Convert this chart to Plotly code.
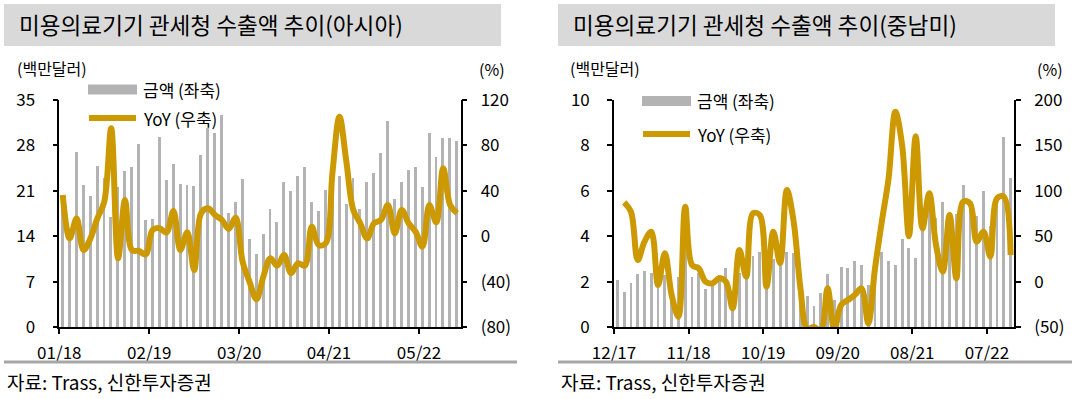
import pandas as pd
import plotly.graph_objects as go
from plotly.subplots import make_subplots

# ---------------- data ----------------
asia_months = [d.strftime("%Y-%m") for d in pd.date_range("2018-01-01", "2022-10-01", freq="MS")]
asia_amount = [20.0, 14.0, 27.0, 21.9, 20.2, 24.8, 23.0, 17.0, 21.6, 24.1, 24.7, 28.2, 16.5, 16.6,
               29.3, 22.7, 25.1, 22.1, 21.9, 21.7, 26.5, 30.7, 29.9, 32.7, 17.6, 19.3, 22.8, 13.6,
               11.3, 14.4, 18.2, 16.2, 22.4, 21.0, 23.3, 24.7, 19.2, 17.9, 21.2, 20.0, 23.3, 19.0,
               23.0, 18.2, 22.4, 23.8, 26.8, 31.7, 19.8, 22.4, 24.2, 24.7, 21.6, 29.9, 26.2, 29.1,
               29.1, 28.7]
asia_yoy = [36.3, -2, 15.7, -12.2, -2, 15.7, 30.4, 95, -19.5, 31.9, -12.2, -13, -16, 5.5, 7, 3.4,
            22.2, -12.2, 3.4, -29.8, 20.2, 24.6, 18.7, 14.3, 6.4, 16.3, -22.5, -40.1, -55.5, -35.6,
            -19.5, -26, -16.6, -32.7, -23.9, -26, 8.4, -7.8, -6.3, 56.8, 105.3, 65.6, 23.1, 11.4,
            -1.9, 11.4, 14.3, 27.5, 2.5, 23.1, 11.4, 4, -9.2, 27.5, 12.2, 59.8, 27.5, 20.2]
asia_tick_months = ["2018-01", "2019-02", "2020-03", "2021-04", "2022-05"]
asia_tick_text = ["01/18", "02/19", "03/20", "04/21", "05/22"]

latam_months = [d.strftime("%Y-%m") for d in pd.date_range("2017-12-01", "2022-10-01", freq="MS")]
latam_amount = [2.07, 1.56, 1.92, 2.32, 2.48, 2.39, 2.4, 2.3, 1.9, 2.2, 3.39, 2.22, 2.4, 1.67, 1.88,
                2.29, 2.58, 1.6, 2.4, 3.0, 3.14, 3.3, 3.3, 3.0, 3.3, 3.3, 3.25, 2.0, 1.37, 0.94, 1.51,
                2.32, 1.19, 2.63, 2.58, 2.92, 2.73, 1.85, 3.05, 3.32, 2.91, 2.73, 3.88, 3.47, 3.05,
                4.6, 5.2, 4.8, 5.5, 4.3, 5.0, 6.26, 5.3, 4.9, 6.0, 4.45, 5.6, 8.38, 6.58]
latam_yoy = [None, 87.3, 77, 23.8, 44, 55, -3.7, 31.2, -14.8, -38.6, 82.5, 18.3, 14.6, -0.1, -1.9,
             3.6, -0.1, -29.4, 34.8, 5.4, 75.2, 73.4, -5.6, 55, 20.1, 100.9, 66, -7.4, -52, -50, -54,
             -7.4, -53, -25.8, -20.3, -14.8, -7.4, -46, 14.6, 66, 113.8, 187, 150, 50, 160, 58.7,
             97.2, 40.3, 11, 73.4, 3.6, 88, 86.2, 44, 55, 27.5, 91.7, 93.5, 29.3]
latam_tick_months = ["2017-12", "2018-11", "2019-10", "2020-09", "2021-08", "2022-07"]
latam_tick_text = ["12/17", "11/18", "10/19", "09/20", "08/21", "07/22"]

left_axis_asia = [0, 7, 14, 21, 28, 35]
right_axis_asia = [-80, -40, 0, 40, 80, 120]
left_axis_latam = [0, 2, 4, 6, 8, 10]
right_axis_latam = [-50, 0, 50, 100, 150, 200]

titles = ["미용의료기기 관세청 수출액 추이(아시아)", "미용의료기기 관세청 수출액 추이(중남미)"]
source_text = "자료: Trass, 신한투자증권"

# ---------------- style ----------------
W, H = 1082, 399
FONT = "Noto Sans CJK KR"
BAR_C = "#B3B3B3"
LINE_C = "#CC9900"
TXT = "#000000"


def fmt(v):
    return f"({abs(v)})" if v < 0 else str(v)


fig = make_subplots(rows=1, cols=2, specs=[[{"secondary_y": True}, {"secondary_y": True}]])

for col, (months, amt, yoy) in enumerate([(asia_months, asia_amount, asia_yoy),
                                          (latam_months, latam_amount, latam_yoy)], start=1):
    xs = list(range(len(months)))
    fig.add_trace(go.Bar(x=xs, y=amt, marker_color=BAR_C, marker_line_width=0, width=0.42,
                         name="금액 (좌축)", showlegend=False), row=1, col=col, secondary_y=False)
    fig.add_trace(go.Scatter(x=xs, y=yoy, mode="lines", line=dict(color=LINE_C, width=6,
                                                                   shape="spline", smoothing=1.0),
                             name="YoY (우축)", showlegend=False, connectgaps=False),
                  row=1, col=col, secondary_y=True)

px = lambda v: v / W
py = lambda v: 1 - v / H

dom_l = [px(59.3), px(460.5)]
dom_r = [px(614), px(1014)]
dom_y = [py(327), py(100)]

axis_common = dict(showline=True, linecolor="black", linewidth=1.6, ticks="outside", ticklen=5,
                   tickwidth=1.5, tickcolor="black", showgrid=False, zeroline=False,
                   automargin=False, tickfont=dict(family=FONT, size=17, color=TXT))

fig.update_layout(
    template="none",
    xaxis=dict(axis_common, domain=dom_l, range=[-0.5, len(asia_months) - 0.5],
               tickvals=[asia_months.index(m) - 0.5 for m in asia_tick_months],
               ticktext=asia_tick_text, ticklabelstandoff=5),
    yaxis=dict(axis_common, domain=dom_y, range=[0, 35], tickvals=left_axis_asia,
               ticktext=[fmt(v) for v in left_axis_asia], ticklabelstandoff=14),
    yaxis2=dict(axis_common, range=[-80, 120], tickvals=right_axis_asia,
                ticktext=[fmt(v) for v in right_axis_asia], ticklabelstandoff=10),
    xaxis2=dict(axis_common, domain=dom_r, range=[-0.5, len(latam_months) - 0.5],
                tickvals=[latam_months.index(m) - 0.5 for m in latam_tick_months],
                ticktext=latam_tick_text, ticklabelstandoff=5),
    yaxis3=dict(axis_common, domain=dom_y, range=[0, 10], tickvals=left_axis_latam,
                ticktext=[fmt(v) for v in left_axis_latam], ticklabelstandoff=14),
    yaxis4=dict(axis_common, range=[-50, 200], tickvals=right_axis_latam,
                ticktext=[fmt(v) for v in right_axis_latam], ticklabelstandoff=10),
)

shapes = []
annotations = []

panels = [
    dict(x0=4, title_x=17, box=(4, 501), sep=(4, 517), unit_l=15, unit_r=477,
         leg_x=88, leg_bar_y=89.5, leg_line_y=118),
    dict(x0=558, title_x=571, box=(558, 1055), sep=(558, 1072), unit_l=568, unit_r=1035,
         leg_x=642, leg_bar_y=101, leg_line_y=134),
]

for i, p in enumerate(panels):
    shapes.append(dict(type="rect", xref="paper", yref="paper", x0=px(p["box"][0]), x1=px(p["box"][1]),
                       y0=py(46), y1=py(4), fillcolor="#D9D9D9", line=dict(width=0), layer="below"))
    annotations.append(dict(text=titles[i], xref="paper", yref="paper", x=px(p["title_x"]), y=py(25),
                            xanchor="left", yanchor="middle", showarrow=False,
                            font=dict(family=FONT, size=22.6, color=TXT)))
    shapes.append(dict(type="line", xref="paper", yref="paper", x0=px(p["sep"][0]), x1=px(p["sep"][1]),
                       y0=py(362), y1=py(362), line=dict(color="#A6A6A6", width=3)))
    annotations.append(dict(text=source_text, xref="paper", yref="paper", x=px(p["x0"] + 1), y=py(381),
                            xanchor="left", yanchor="middle", showarrow=False,
                            font=dict(family=FONT, size=19, color=TXT)))
    annotations.append(dict(text="(백만달러)", xref="paper", yref="paper", x=px(p["unit_l"]), y=py(68),
                            xanchor="left", yanchor="middle", showarrow=False,
                            font=dict(family=FONT, size=16, color=TXT)))
    annotations.append(dict(text="(%)", xref="paper", yref="paper", x=px(p["unit_r"]), y=py(69),
                            xanchor="left", yanchor="middle", showarrow=False,
                            font=dict(family=FONT, size=16, color=TXT)))
    lx = p["leg_x"]
    shapes.append(dict(type="rect", xref="paper", yref="paper", x0=px(lx), x1=px(lx + 49),
                       y0=py(p["leg_bar_y"] + 5), y1=py(p["leg_bar_y"] - 5), fillcolor=BAR_C,
                       line=dict(width=0)))
    shapes.append(dict(type="line", xref="paper", yref="paper", x0=px(lx + 1), x1=px(lx + 48),
                       y0=py(p["leg_line_y"]), y1=py(p["leg_line_y"]),
                       line=dict(color=LINE_C, width=6)))
    annotations.append(dict(text="금액 (좌축)", xref="paper", yref="paper", x=px(lx + 53),
                            y=py(p["leg_bar_y"]), xanchor="left", yanchor="middle", showarrow=False,
                            font=dict(family=FONT, size=17, color=TXT)))
    annotations.append(dict(text="YoY (우축)", xref="paper", yref="paper", x=px(lx + 53),
                            y=py(p["leg_line_y"]), xanchor="left", yanchor="middle", showarrow=False,
                            font=dict(family=FONT, size=17, color=TXT)))

fig.update_layout(
    width=W, height=H, autosize=False,
    margin=dict(l=0, r=0, t=0, b=0, pad=0),
    paper_bgcolor="white", plot_bgcolor="white",
    showlegend=False, bargap=0,
    shapes=shapes, annotations=annotations,
    font=dict(family=FONT, size=16, color=TXT),
)

fig.write_html("out.html", config={"displayModeBar": False},
               post_script="document.body.style.margin='0';")
